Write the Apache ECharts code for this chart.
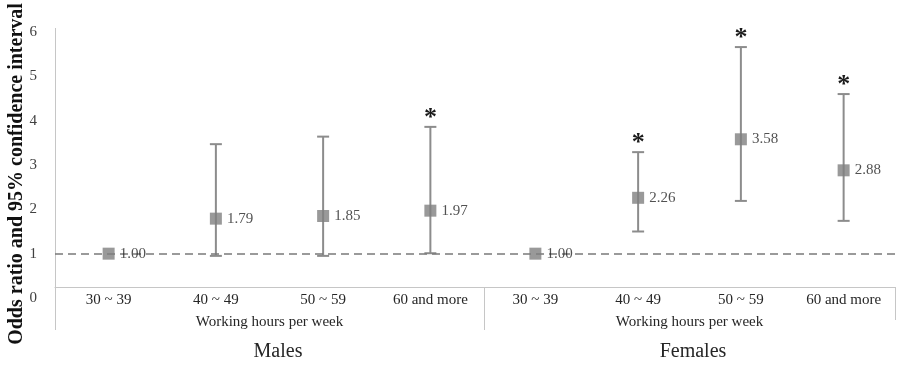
<!DOCTYPE html>
<html>
<head>
<meta charset="utf-8">
<script src="https://cdn.jsdelivr.net/npm/echarts@6/dist/echarts.min.js"></script>
<style>
  html, body { margin: 0; padding: 0; background: #fff; }
  #main { width: 899px; height: 375px; }
</style>
</head>
<body>
<div id="main"></div>
<script>
var categories = ['30 ~ 39', '40 ~ 49', '50 ~ 59', '60 and more'];
var yTicks = [0, 1, 2, 3, 4, 5, 6];

// males
var maleOR   = [1.00, 1.79, 1.85, 1.97];
var maleLow  = [null, 0.95, 0.95, 1.01];
var maleHigh = [null, 3.47, 3.64, 3.86];
var maleSig  = [false, false, false, true];

// females
var femaleOR   = [1.00, 2.26, 3.58, 2.88];
var femaleLow  = [null, 1.50, 2.19, 1.74];
var femaleHigh = [null, 3.29, 5.66, 4.60];
var femaleSig  = [false, true, true, true];

var serif = '"Liberation Serif", "DejaVu Serif", serif';
var boxColor = '#c6c6c6';

function pointData(or) {
  return or.map(function (v, i) { return [i, v]; });
}
function barData(lo, hi, sig) {
  var out = [];
  for (var i = 0; i < lo.length; i++) {
    if (lo[i] == null) continue;
    out.push([i, lo[i], hi[i], sig[i] ? 1 : 0]);
  }
  return out;
}

function renderBar(params, api) {
  var x = api.value(0);
  var lo = api.coord([x, api.value(1)]);
  var hi = api.coord([x, api.value(2)]);
  var st = { stroke: '#8c8c8c', lineWidth: 2 };
  var kids = [
    { type: 'line', shape: { x1: lo[0], y1: lo[1], x2: hi[0], y2: hi[1] }, style: st },
    { type: 'line', shape: { x1: hi[0] - 6, y1: hi[1], x2: hi[0] + 6, y2: hi[1] }, style: st },
    { type: 'line', shape: { x1: lo[0] - 6, y1: lo[1], x2: lo[0] + 6, y2: lo[1] }, style: st }
  ];
  if (api.value(3) === 1) {
    kids.push({
      type: 'text',
      x: hi[0], y: hi[1] - 9,
      style: {
        text: '*', fontSize: 26, fontWeight: 'bold', fontFamily: serif,
        fill: '#1a1a1a', align: 'center', verticalAlign: 'middle'
      }
    });
  }
  return { type: 'group', children: kids };
}

function xAxisFor(gi) {
  return {
    type: 'category', gridIndex: gi, data: categories,
    offset: -11,
    axisLine: { show: true, lineStyle: { color: boxColor, width: 1 } },
    axisTick: { show: false },
    axisLabel: { margin: 6, fontSize: 15, fontFamily: serif, color: '#262626' },
    name: 'Working hours per week', nameLocation: 'middle', nameGap: 28,
    nameTextStyle: { fontSize: 15, fontFamily: serif, color: '#262626' }
  };
}
function yAxisFor(gi) {
  return {
    type: 'value', gridIndex: gi, min: yTicks[0], max: yTicks[yTicks.length - 1], interval: 1,
    axisLine: { show: false }, axisTick: { show: false }, splitLine: { show: false },
    axisLabel: { show: gi === 0, margin: 18, fontSize: 15, fontFamily: serif, color: '#404040' }
  };
}

function pointSeries(gi, or) {
  return {
    type: 'scatter', xAxisIndex: gi, yAxisIndex: gi, z: 5,
    symbol: 'rect', symbolSize: 12,
    itemStyle: { color: '#808080' },
    data: pointData(or),
    label: {
      show: true, position: 'right', distance: 5,
      formatter: function (p) { return p.value[1].toFixed(2); },
      fontSize: 15, fontFamily: serif, color: '#262626'
    },
    markLine: {
      silent: true, symbol: 'none', label: { show: false },
      lineStyle: { color: '#7a7a7a', type: [8, 5], width: 1.5 },
      data: [{ yAxis: 1 }]
    }
  };
}
function barSeries(gi, lo, hi, sig) {
  return {
    type: 'custom', xAxisIndex: gi, yAxisIndex: gi, z: 3,
    renderItem: renderBar,
    encode: { x: 0, y: [1, 2] },
    data: barData(lo, hi, sig)
  };
}

var myChart = echarts.init(document.getElementById('main'));
var option = {
  animation: false,
  grid: [
    { left: 55, width: 429, top: 32, bottom: 77 },
    { left: 484, right: 4, top: 32, bottom: 77 }
  ],
  xAxis: [xAxisFor(0), xAxisFor(1)],
  yAxis: [yAxisFor(0), yAxisFor(1)],
  series: [
    barSeries(0, maleLow, maleHigh, maleSig),
    pointSeries(0, maleOR),
    barSeries(1, femaleLow, femaleHigh, femaleSig),
    pointSeries(1, femaleOR)
  ],
  graphic: [
    { type: 'line', shape: { x1: 55.5, y1: 28, x2: 55.5, y2: 330 }, style: { stroke: boxColor, lineWidth: 1 } },
    { type: 'line', shape: { x1: 484.5, y1: 287, x2: 484.5, y2: 330 }, style: { stroke: boxColor, lineWidth: 1 } },
    { type: 'line', shape: { x1: 895.5, y1: 287, x2: 895.5, y2: 320 }, style: { stroke: boxColor, lineWidth: 1 } },
    {
      type: 'text', x: 17, y: 174, rotation: Math.PI / 2,
      style: {
        text: 'Odds ratio and 95% confidence interval',
        fontSize: 20, fontWeight: 'bold', fontFamily: serif, fill: '#111',
        align: 'center', verticalAlign: 'middle'
      }
    },
    {
      type: 'text', x: 278, y: 352,
      style: { text: 'Males', fontSize: 20, fontFamily: serif, fill: '#262626', align: 'center', verticalAlign: 'middle' }
    },
    {
      type: 'text', x: 693, y: 352,
      style: { text: 'Females', fontSize: 20, fontFamily: serif, fill: '#262626', align: 'center', verticalAlign: 'middle' }
    }
  ]
};
myChart.setOption(option);
</script>
</body>
</html>
